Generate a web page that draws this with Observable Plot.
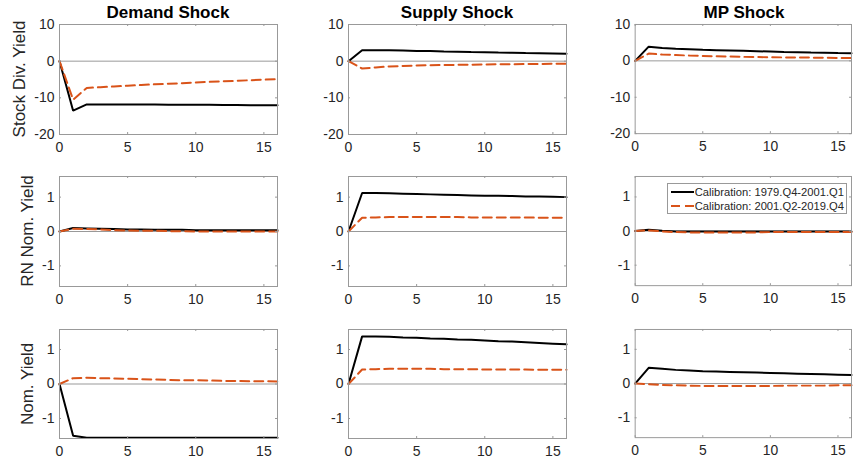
<!DOCTYPE html>
<html><head><meta charset="utf-8">
<script src="https://cdn.jsdelivr.net/npm/d3@7"></script>
<script src="https://cdn.jsdelivr.net/npm/@observablehq/plot@0.6"></script>
<style>
body{margin:0;background:#fff;overflow:hidden;font-family:"Liberation Sans",Arial,Helvetica,sans-serif;}
#chart{position:relative;width:853px;height:469px;overflow:hidden;background:#fff;}
.panel{position:absolute;}
.title{position:absolute;font-weight:bold;font-size:17px;color:#000;transform:translate(-50%,-50%);white-space:nowrap;line-height:1;}
.ylab{position:absolute;font-size:17px;color:#262626;transform:translate(-50%,-50%) rotate(-90deg);white-space:nowrap;line-height:1;}
.legend{position:absolute;background:#fff;border:1px solid #999;font-size:11.2px;color:#262626;box-sizing:border-box;padding:1px 2px;}
.legend div{display:flex;align-items:center;height:14px;white-space:nowrap;}
.legend svg{margin-right:1px;}
</style></head><body><div id="chart"></div>
<script>
// ---- data ----
const steps = [0,1,2,3,4,5,6,7,8,9,10,11,12,13,14,15,16];
const shocks = ["Demand Shock", "Supply Shock", "MP Shock"];
const variables = ["Stock Div. Yield", "RN Nom. Yield", "Nom. Yield"];
const seriesNames = ["Calibration: 1979.Q4-2001.Q1", "Calibration: 2001.Q2-2019.Q4"];
const xTicks = [0, 5, 10, 15];
const yTicksTop = [-20, -10, 0, 10];
const yTicksLow = [-1, 0, 1];

// Stock dividend yield
const sdyDemandA = [0,-13.5,-11.8,-11.8,-11.8,-11.8,-11.85,-11.85,-11.9,-11.9,-11.9,-11.9,-11.95,-11.95,-12.0,-12.0,-12.0];
const sdyDemandB = [0,-10.5,-7.3,-7.1,-6.9,-6.7,-6.5,-6.3,-6.15,-6.0,-5.8,-5.65,-5.5,-5.35,-5.2,-5.05,-4.9];
const sdySupplyA = [0,3.0,3.0,2.95,2.9,2.8,2.75,2.65,2.6,2.5,2.45,2.35,2.3,2.2,2.15,2.1,2.0];
const sdySupplyB = [0,-2.0,-1.7,-1.45,-1.3,-1.2,-1.1,-1.05,-1.0,-0.95,-0.9,-0.85,-0.82,-0.8,-0.77,-0.73,-0.7];
const sdyMPA = [0,3.9,3.55,3.35,3.2,3.05,2.95,2.85,2.75,2.65,2.55,2.45,2.4,2.3,2.25,2.15,2.1];
const sdyMPB = [0,2.0,1.75,1.6,1.45,1.35,1.25,1.2,1.1,1.05,1.0,0.95,0.9,0.9,0.85,0.8,0.8];
// Risk-neutral nominal yield
const rnDemandA = [0,0.1,0.09,0.08,0.07,0.06,0.06,0.05,0.05,0.05,0.04,0.04,0.04,0.04,0.04,0.04,0.04];
const rnDemandB = [0,0.08,0.07,0.06,0.04,0.03,0.02,0.02,0.01,0.01,0.0,0.0,0.0,0.0,0.0,0.0,0.0];
const rnSupplyA = [0,1.12,1.12,1.11,1.1,1.09,1.08,1.07,1.06,1.05,1.04,1.04,1.03,1.02,1.02,1.01,1.0];
const rnSupplyB = [0,0.4,0.41,0.42,0.42,0.42,0.42,0.42,0.42,0.41,0.41,0.41,0.41,0.41,0.4,0.4,0.4];
const rnMPA = [0,0.04,0.01,-0.01,-0.01,-0.01,-0.01,-0.01,-0.01,-0.01,-0.01,-0.01,-0.01,-0.01,-0.01,-0.01,-0.01];
const rnMPB = [0,0.02,-0.01,-0.03,-0.04,-0.04,-0.04,-0.04,-0.04,-0.04,-0.03,-0.03,-0.03,-0.03,-0.03,-0.03,-0.03];
// Nominal yield
const nomDemandA = [0,-1.5,-1.56,-1.56,-1.56,-1.56,-1.56,-1.56,-1.56,-1.56,-1.56,-1.56,-1.56,-1.56,-1.56,-1.56,-1.56];
const nomDemandB = [0,0.17,0.18,0.17,0.16,0.15,0.14,0.13,0.12,0.11,0.11,0.1,0.09,0.09,0.08,0.08,0.07];
const nomSupplyA = [0,1.38,1.38,1.37,1.35,1.34,1.32,1.31,1.29,1.28,1.26,1.24,1.23,1.21,1.19,1.17,1.15];
const nomSupplyB = [0,0.42,0.43,0.44,0.44,0.44,0.44,0.43,0.43,0.43,0.42,0.42,0.42,0.42,0.41,0.41,0.41];
const nomMPA = [0,0.46,0.43,0.4,0.38,0.36,0.35,0.34,0.33,0.32,0.31,0.3,0.29,0.28,0.27,0.26,0.25];
const nomMPB = [0,-0.02,-0.04,-0.05,-0.06,-0.07,-0.07,-0.07,-0.07,-0.07,-0.07,-0.06,-0.06,-0.06,-0.06,-0.05,-0.05];

// ---- layout ----
const FONT = '"Liberation Sans", Arial, Helvetica, sans-serif';
const colLeft = [59, 348, 635];
const frameW = 218;
const rowTop = [24, 176, 329];
const frameH = [110, 110, 109];
const yDomains = [[-20, 10], [-1.6, 1.6], [-1.58, 1.58]];
const yTicksRows = [yTicksTop, yTicksLow, yTicksLow];
const ML = 44, MR = 2, MT = 2, MB = 26;
const grid = [
  [[sdyDemandA, sdyDemandB], [sdySupplyA, sdySupplyB], [sdyMPA, sdyMPB]],
  [[rnDemandA, rnDemandB], [rnSupplyA, rnSupplyB], [rnMPA, rnMPB]],
  [[nomDemandA, nomDemandB], [nomSupplyA, nomSupplyB], [nomMPA, nomMPB]]
];
const fmt = d => (d < 0 ? "-" + Math.abs(d) : String(d));
const chart = document.getElementById("chart");

function makePanel(a, b, yDomain, yTicks, fh) {
  const dA = steps.map((s, i) => ({x: s, y: a[i]}));
  const dB = steps.map((s, i) => ({x: s, y: b[i]}));
  return Plot.plot({
    width: ML + frameW + MR,
    height: MT + fh + MB,
    marginLeft: ML, marginRight: MR, marginTop: MT, marginBottom: MB,
    style: {fontFamily: FONT, fontSize: "14px", color: "#262626", background: "transparent", overflow: "visible"},
    x: {domain: [0, 16]},
    y: {domain: yDomain},
    marks: [
      Plot.ruleY([0], {stroke: "#999", strokeWidth: 1}),
      Plot.line(dA, {x: "x", y: "y", stroke: "#000", strokeWidth: 2, strokeLinejoin: "miter"}),
      Plot.line(dB, {x: "x", y: "y", stroke: "#D95319", strokeWidth: 2, strokeDasharray: "9,5", strokeLinejoin: "miter"}),
      Plot.frame({stroke: "#999", strokeWidth: 1}),
      Plot.tickX(xTicks, {x: d => d, stroke: "#999", insetBottom: fh - 2}),
      Plot.tickX(xTicks, {x: d => d, stroke: "#999", insetTop: fh - 2}),
      Plot.tickY(yTicks, {y: d => d, stroke: "#999", insetRight: frameW - 2}),
      Plot.tickY(yTicks, {y: d => d, stroke: "#999", insetLeft: frameW - 2}),
      Plot.axisX({ticks: xTicks, tickSize: 0, tickPadding: 8, label: null, fontSize: 14, tickFormat: fmt}),
      Plot.axisY({ticks: yTicks, tickSize: 0, tickPadding: 5, label: null, fontSize: 14, tickFormat: fmt})
    ]
  });
}

for (let r = 0; r < 3; r++) {
  for (let c = 0; c < 3; c++) {
    const [a, b] = grid[r][c];
    const svg = makePanel(a, b, yDomains[r], yTicksRows[r], frameH[r]);
    const wrap = document.createElement("div");
    wrap.className = "panel";
    wrap.style.left = (colLeft[c] - ML) + "px";
    wrap.style.top = (rowTop[r] - MT) + "px";
    wrap.appendChild(svg);
    chart.appendChild(wrap);
  }
}

// titles
shocks.forEach((t, c) => {
  const el = document.createElement("div");
  el.className = "title";
  el.textContent = t;
  el.style.left = (colLeft[c] + frameW / 2) + "px";
  el.style.top = "12px";
  chart.appendChild(el);
});

// y labels
const ylabX = [19, 27, 27];
variables.forEach((t, r) => {
  const el = document.createElement("div");
  el.className = "ylab";
  el.textContent = t;
  el.style.left = ylabX[r] + "px";
  el.style.top = (rowTop[r] + frameH[r] / 2) + "px";
  chart.appendChild(el);
});

// legend
const lg = document.createElement("div");
lg.className = "legend";
lg.style.left = "667px";
lg.style.top = "183px";
lg.style.width = "180px";
lg.style.height = "31px";
const samples = [
  '<svg width="26" height="6"><line x1="1" y1="3" x2="25" y2="3" stroke="#000" stroke-width="2"/></svg>',
  '<svg width="26" height="6"><line x1="1" y1="3" x2="25" y2="3" stroke="#D95319" stroke-width="2" stroke-dasharray="9,5"/></svg>'
];
seriesNames.forEach((n, i) => {
  const row = document.createElement("div");
  row.innerHTML = samples[i];
  const span = document.createElement("span");
  span.textContent = n;
  row.appendChild(span);
  lg.appendChild(row);
});
chart.appendChild(lg);
</script></body></html>
